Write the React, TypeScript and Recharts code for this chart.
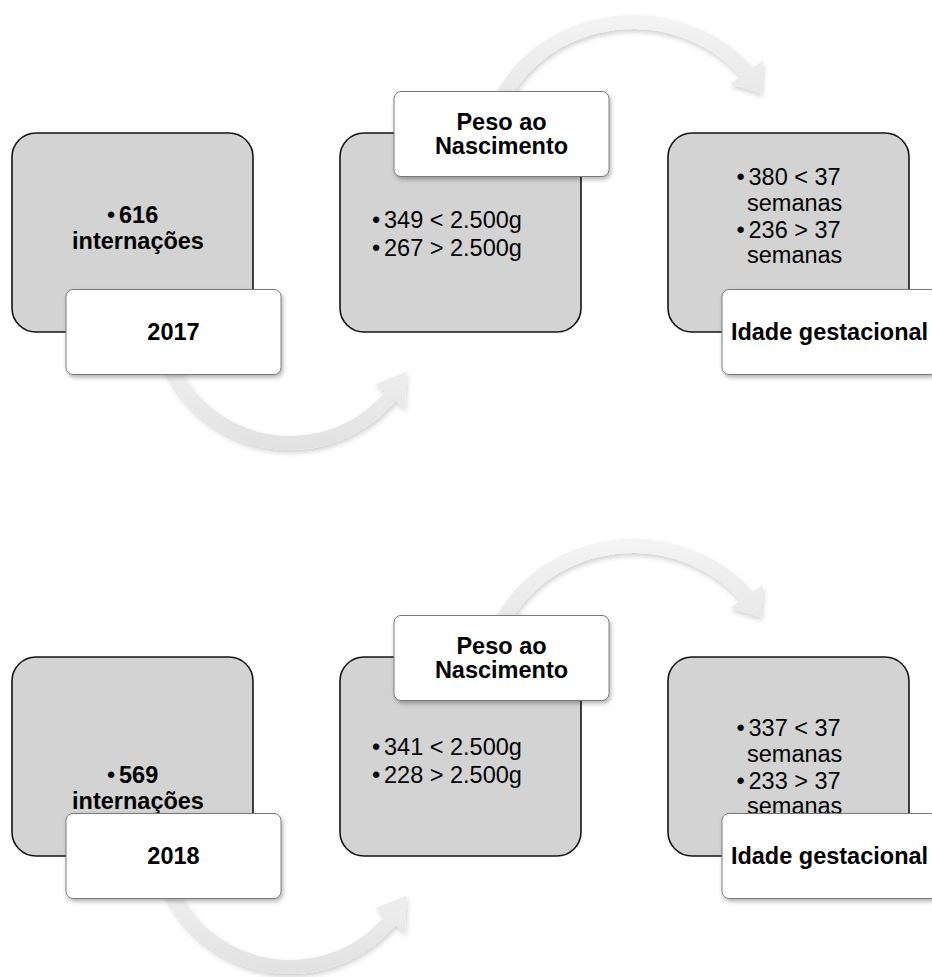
import React from 'react';
import { ComposedChart, Scatter, XAxis, YAxis } from 'recharts';

const years = ['2017', '2018'];
const internacoes = [616, 569];
const pesoAbaixo = [349, 341];
const pesoAcima = [267, 228];
const igAbaixo = [380, 337];
const igAcima = [236, 233];
const stepTitles = [['Peso ao', 'Nascimento'], ['Idade gestacional']];

const W = 932;
const H = 977;
const FONT = '"Liberation Sans", Arial, Helvetica, sans-serif';
const FS = 23.5;

// layout (px, relative to the node centre given by the scales)
const BOX = { dx: -121, dy: -100, w: 241, h: 199, r: 24 };
const LABEL = { dx: -67, w: 215, h: 85, r: 7, below: 56.5, above: -141.5 };
const TEXT_SHIFT = [
  [0, 0, 0],
  [36, 3, 27],
];

const ARC: Record<string, any> = {
  down: { ox: -7, oy: 79, sx: 1, rIn: 124, rOut: 138, a0: 172, a1: 40, tip: 27, hIn: 112, hOut: 150 },
  up: { ox: 8, oy: -80, sx: 1.1, rIn: 124, rOut: 138, a0: 188, a1: 322, tip: 333, hIn: 112, hOut: 150 },
};

const nodes = years.flatMap((year, r) => [
  { step: 0, row: r, title: [year] },
  { step: 1, row: r, title: stepTitles[0] },
  { step: 2, row: r, title: stepTitles[1] },
]);

const arrows = years.flatMap((_, r) => [
  { step: 0.5, row: r, kind: 'down' },
  { step: 1.5, row: r, kind: 'up' },
]);

type Line = { text: string; x: number; y: number; bullet?: boolean; mid?: boolean };

const bodyLines = (step: number, r: number): Line[] => {
  if (step === 0) {
    return [
      { text: String(internacoes[r]), x: -14, y: -18.5, bullet: true },
      { text: 'internações', x: 5, y: 7.5, mid: true },
    ];
  }
  if (step === 1) {
    return [
      { text: `${pesoAbaixo[r]} < 2.500g`, x: -77, y: -13.5, bullet: true },
      { text: `${pesoAcima[r]} > 2.500g`, x: -77, y: 14.5, bullet: true },
    ];
  }
  return [
    { text: `${igAbaixo[r]} < 37`, x: -40.5, y: -56.5, bullet: true },
    { text: 'semanas', x: -42, y: -30.5 },
    { text: `${igAcima[r]} > 37`, x: -40.5, y: -3.5, bullet: true },
    { text: 'semanas', x: -42, y: 21.5 },
  ];
};

const pt = (cx: number, cy: number, r: number, deg: number, sx = 1) => {
  const a = (deg * Math.PI) / 180;
  return [cx + r * sx * Math.cos(a), cy + r * Math.sin(a)];
};

const ArrowShape = (props: any) => {
  const { cx, cy, payload } = props;
  if (cx == null || cy == null) return null;
  const g = ARC[payload.kind];
  const ox = cx + g.ox;
  const oy = cy + g.oy;
  const sweep = g.a1 > g.a0 ? 1 : 0;
  const back = sweep ? 0 : 1;
  const rMid = (g.rIn + g.rOut) / 2;
  const o0 = pt(ox, oy, g.rOut, g.a0, g.sx);
  const o1 = pt(ox, oy, g.rOut, g.a1, g.sx);
  const h1 = pt(ox, oy, g.hOut, g.a1, g.sx);
  const t = pt(ox, oy, rMid, g.tip, g.sx);
  const h2 = pt(ox, oy, g.hIn, g.a1, g.sx);
  const i1 = pt(ox, oy, g.rIn, g.a1, g.sx);
  const i0 = pt(ox, oy, g.rIn, g.a0, g.sx);
  const d =
    `M${o0[0]},${o0[1]} A${g.rOut * g.sx},${g.rOut} 0 0 ${sweep} ${o1[0]},${o1[1]} ` +
    `L${h1[0]},${h1[1]} L${t[0]},${t[1]} L${h2[0]},${h2[1]} L${i1[0]},${i1[1]} ` +
    `A${g.rIn * g.sx},${g.rIn} 0 0 ${back} ${i0[0]},${i0[1]} Z`;
  return <path d={d} fill="url(#arcFill)" filter="url(#arcShadow)" />;
};

const NodeShape = (props: any) => {
  const { cx, cy, payload } = props;
  if (cx == null || cy == null) return null;
  const { step, row, title } = payload;
  const shift = TEXT_SHIFT[row][step];
  const bold = step === 0 ? 'bold' : 'normal';
  const lx = cx + LABEL.dx;
  const ly = cy + (step === 1 ? LABEL.above : LABEL.below);
  const lines = bodyLines(step, row);
  return (
    <g fontFamily={FONT} fontSize={FS} fill="#000">
      <rect
        x={cx + BOX.dx}
        y={cy + BOX.dy}
        width={BOX.w}
        height={BOX.h}
        rx={BOX.r}
        fill="#d3d3d3"
        stroke="#141414"
        strokeWidth={1.6}
      />
      <text>
        {lines.flatMap((l, i) => {
          const y = cy + l.y + shift;
          const parts = [];
          if (l.bullet) {
            parts.push(
              <tspan key={`b${i}`} x={cx + l.x - 12} y={y} dy="0.35em" fontWeight="normal" textAnchor="start">
                •
              </tspan>
            );
          }
          parts.push(
            <tspan
              key={`t${i}`}
              x={cx + l.x}
              y={y}
              dy="0.35em"
              textAnchor={l.mid ? 'middle' : 'start'}
              fontWeight={bold}
            >
              {l.text}
            </tspan>
          );
          return parts;
        })}
      </text>
      <rect
        x={lx}
        y={ly}
        width={LABEL.w}
        height={LABEL.h}
        rx={LABEL.r}
        fill="#fff"
        stroke="#7a7a7a"
        strokeWidth={1}
        filter="url(#labelShadow)"
      />
      <text textAnchor="middle" fontWeight="bold">
        {title.map((t: string, i: number) => (
          <tspan
            key={t}
            x={lx + LABEL.w / 2}
            y={ly + LABEL.h / 2 + (i - (title.length - 1) / 2) * 23.5}
            dy="0.35em"
          >
            {t}
          </tspan>
        ))}
      </text>
    </g>
  );
};

export default function App() {
  return (
    <div
      style={{
        position: 'absolute',
        left: 0,
        top: 0,
        width: W,
        height: H,
        overflow: 'hidden',
        background: '#fff',
      }}
    >
      <svg width={0} height={0} style={{ position: 'absolute' }}>
        <defs>
          <linearGradient id="arcFill" x1="0" y1="0" x2="0" y2="1">
            <stop offset="0%" stopColor="#f4f4f4" />
            <stop offset="100%" stopColor="#e2e2e2" />
          </linearGradient>
          <filter id="arcShadow" x="-20%" y="-20%" width="140%" height="140%">
            <feDropShadow dx="1" dy="3" stdDeviation="2.5" floodColor="#000" floodOpacity="0.18" />
          </filter>
          <filter id="labelShadow" x="-10%" y="-10%" width="125%" height="130%">
            <feDropShadow dx="1.5" dy="2.5" stdDeviation="2" floodColor="#000" floodOpacity="0.3" />
          </filter>
        </defs>
      </svg>
      <ComposedChart width={W} height={H} margin={{ top: 0, right: 0, bottom: 0, left: 0 }}>
        <XAxis
          type="number"
          dataKey="step"
          domain={[0, 2]}
          padding={{ left: 133, right: 143 }}
          hide
        />
        <YAxis
          type="number"
          dataKey="row"
          domain={[0, 1]}
          reversed
          padding={{ top: 233, bottom: 220 }}
          hide
        />
        <Scatter data={arrows} shape={ArrowShape} isAnimationActive={false} />
        <Scatter data={nodes} shape={NodeShape} isAnimationActive={false} />
      </ComposedChart>
    </div>
  );
}
